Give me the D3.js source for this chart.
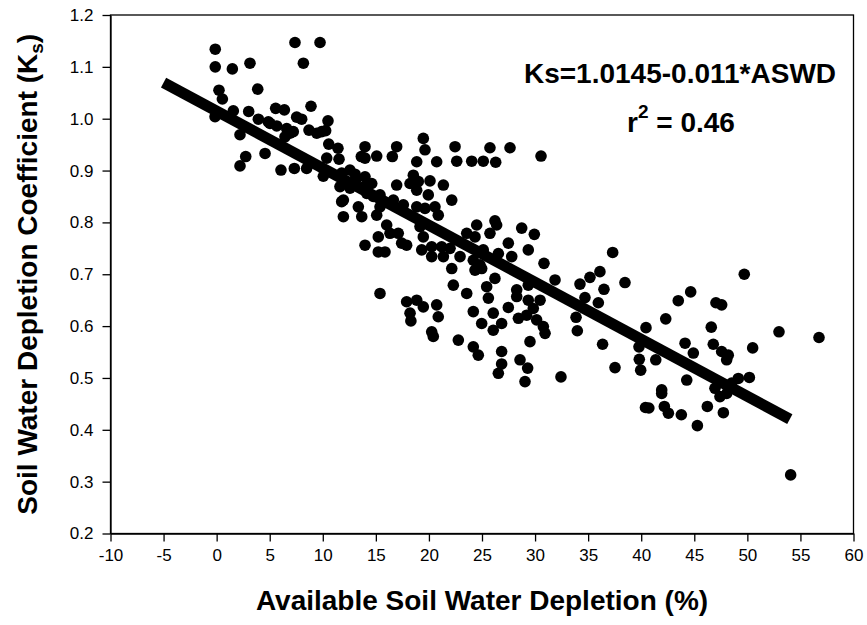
<!DOCTYPE html>
<html>
<head>
<meta charset="utf-8">
<script src="https://cdn.jsdelivr.net/npm/d3@7"></script>
<style>
  html, body { margin: 0; padding: 0; background: #fff; }
  svg { display: block; }
  text { font-family: "Liberation Sans", Arial, sans-serif; fill: #000; }
</style>
</head>
<body>
<svg id="chart" width="867" height="625"></svg>
<script>
// ---- data ----
const aswd = [
  -0.13, -0.13, 1.48, 3.14, 7.38, 9.74, 8.17, 3.87, 0.22, 0.54, 8.89, 5.56, 6.38, 1.57, 3.02, -0.15, 3.93, 4.87, 7.54, 8.01,
  10.49, 5.66, 6.6, 7.22, 8.7, 9.43, 10.27, 2.2, 6.44, 2.74, 2.2, 4.56, 10.56, 11.43, 13.98, 16.96, 6.06, 7.32, 8.48, 10.37,
  11.53, 13.63, 15.08, 16.55, 10.05, 11.78, 13.04, 13.98, 11.62, 12.56, 14.61, 16.96, 11.94, 14.14, 15.39,
  5.03, 9.9, 6.91, 19.47, 19.63, 22.46, 25.75, 27.64, 30.56, 22.62, 24.03, 25.12, 26.29, 20.73, 18.85, 13.98, 12.56, 13.2,
  13.98, 18.53, 18.22, 19.0, 20.1, 21.36, 19.94, 22.15, 18.85, 11.78, 11.94, 13.35, 13.67, 14.76, 15.08, 16.02, 15.39, 16.65,
  17.59, 18.85, 19.63, 20.57, 20.88, 19.16, 13.98, 15.23, 15.23, 15.86, 16.33, 17.11, 17.43, 17.9, 19.47, 19.32, 20.26, 21.2,
  21.99, 21.36, 22.93, 20.26, 22.15, 22.3, 23.56, 24.34, 25.75, 26.38, 24.5, 23.56, 28.74, 29.93, 27.48, 29.36, 30.84, 25.12,
  26.54, 27.8, 24.18, 24.81, 26.22, 25.44, 28.27, 29.36, 15.39,
  26.22, 31.88, 34.23, 35.17, 36.11, 37.31, 36.49, 38.47, 34.7, 35.96, 33.86, 33.98, 36.36, 32.44, 37.53, 39.79, 40.45, 42.31,
  43.49, 44.66, 39.82, 39.95, 41.37, 41.93, 41.93, 44.29, 44.13, 44.91, 24.34, 24.97, 25.6, 24.18, 26.06, 24.97, 26.06, 26.85,
  27.48, 28.27, 29.36, 30.47, 29.83, 28.43, 29.21, 30.15, 30.78, 30.94, 29.52, 26.85, 26.85, 26.54, 28.58, 29.3, 29.05, 22.77,
  24.18, 24.65, 17.9, 18.85, 19.47, 18.22, 18.3, 20.73, 20.88, 20.26, 20.41,
  49.71, 47.04, 47.58, 46.6, 46.79, 47.58, 48.2, 48.05, 50.5, 52.98, 56.75, 40.4, 40.72, 42.18, 42.56, 43.78, 45.29, 46.23,
  47.74, 46.95, 47.42, 48.05, 49.15, 50.19, 48.53, 54.08
];
const ksObs = [
  1.134, 1.100, 1.096, 1.107, 1.147, 1.147, 1.107, 1.057, 1.055, 1.038, 1.024, 1.020, 1.017, 1.015, 1.014, 1.004, 0.999, 0.994, 1.003, 0.999,
  0.996, 0.986, 0.981, 0.975, 0.978, 0.972, 0.977, 0.969, 0.965, 0.927, 0.909, 0.933, 0.951, 0.943, 0.946, 0.946, 0.901, 0.904, 0.904, 0.924,
  0.922, 0.927, 0.928, 0.927, 0.889, 0.895, 0.893, 0.888, 0.869, 0.866, 0.875, 0.872, 0.843, 0.856, 0.853,
  0.991, 0.975, 0.972, 0.962, 0.940, 0.946, 0.944, 0.944, 0.928, 0.918, 0.918, 0.918, 0.916, 0.917, 0.917, 0.924, 0.901, 0.885,
  0.870, 0.891, 0.875, 0.879, 0.880, 0.872, 0.853, 0.843, 0.862, 0.840, 0.811, 0.830, 0.811, 0.850, 0.814, 0.795, 0.830, 0.843,
  0.834, 0.830, 0.827, 0.830, 0.814, 0.792, 0.756, 0.772, 0.743, 0.743, 0.779, 0.779, 0.760, 0.756, 0.772, 0.747, 0.753, 0.753,
  0.750, 0.734, 0.734, 0.734, 0.711, 0.679, 0.663, 0.772, 0.779, 0.795, 0.795, 0.779, 0.789, 0.777, 0.760, 0.747, 0.721, 0.747,
  0.740, 0.734, 0.727, 0.718, 0.692, 0.676, 0.670, 0.679, 0.663,
  0.803, 0.689, 0.681, 0.694, 0.705, 0.742, 0.671, 0.684, 0.655, 0.645, 0.617, 0.591, 0.565, 0.502, 0.520, 0.560, 0.597, 0.614,
  0.649, 0.666, 0.536, 0.515, 0.535, 0.477, 0.470, 0.496, 0.567, 0.548, 0.708, 0.711, 0.654, 0.628, 0.625, 0.605, 0.592, 0.605,
  0.636, 0.657, 0.650, 0.650, 0.634, 0.615, 0.621, 0.612, 0.599, 0.586, 0.570, 0.551, 0.527, 0.509, 0.535, 0.519, 0.493, 0.573,
  0.560, 0.544, 0.647, 0.650, 0.637, 0.625, 0.610, 0.641, 0.618, 0.589, 0.580,
  0.700, 0.645, 0.641, 0.598, 0.565, 0.551, 0.544, 0.535, 0.558, 0.589, 0.578, 0.443, 0.442, 0.445, 0.432, 0.429, 0.408, 0.445,
  0.433, 0.480, 0.464, 0.470, 0.499, 0.501, 0.490, 0.313
];
// regression line end points (Ks = 1.0145 - 0.011*ASWD)
const fitLineX = [-5, 54];
const fitLineY = [1.0695, 0.4205];
const xTickValues = [-10, -5, 0, 5, 10, 15, 20, 25, 30, 35, 40, 45, 50, 55, 60];
const xTickLabels = ["-10", "-5", "0", "5", "10", "15", "20", "25", "30", "35", "40", "45", "50", "55", "60"];
const yTickValues = [0.2, 0.3, 0.4, 0.5, 0.6, 0.7, 0.8, 0.9, 1.0, 1.1, 1.2];
const yTickLabels = ["0.2", "0.3", "0.4", "0.5", "0.6", "0.7", "0.8", "0.9", "1.0", "1.1", "1.2"];
const equationText = "Ks=1.0145-0.011*ASWD";
const rSquaredText = " = 0.46";
const xTitle = "Available Soil Water Depletion (%)";
const yTitle = "Soil Water Depletion Coefficient (K";

// ---- layout ----
const W = 867, H = 625;
const m = { left: 110.5, right: 13.5, top: 15, bottom: 91.5 };
const svg = d3.select("#chart");
const x = d3.scaleLinear().domain([-10, 60]).range([m.left, W - m.right]);
const y = d3.scaleLinear().domain([0.2, 1.2]).range([H - m.bottom, m.top]);

// frame
svg.append("rect")
  .attr("x", m.left).attr("y", m.top)
  .attr("width", W - m.left - m.right).attr("height", H - m.top - m.bottom)
  .attr("fill", "none").attr("stroke", "#000").attr("stroke-width", 1.3);

// axes
const xAxis = svg.append("g")
  .attr("transform", `translate(0,${H - m.bottom})`)
  .call(d3.axisBottom(x).tickValues(xTickValues).tickSizeOuter(0).tickSizeInner(8).tickPadding(7)
    .tickFormat((d, i) => xTickLabels[i]));
const yAxis = svg.append("g")
  .attr("transform", `translate(${m.left},0)`)
  .call(d3.axisLeft(y).tickValues(yTickValues).tickSizeOuter(0).tickSizeInner(8).tickPadding(9)
    .tickFormat((d, i) => yTickLabels[i]));
[xAxis, yAxis].forEach(g => {
  g.select(".domain").attr("stroke", "#000").attr("stroke-width", 1.3);
  g.selectAll(".tick line").attr("stroke", "#000").attr("stroke-width", 1.3);
  g.selectAll(".tick text").attr("font-size", 17).attr("font-family", "Liberation Sans, Arial, sans-serif").attr("fill", "#000");
});

// points
const pts = aswd.map((v, i) => ({ x: v, y: ksObs[i] }));
svg.append("g").selectAll("circle").data(pts).join("circle")
  .attr("cx", d => x(d.x)).attr("cy", d => y(d.y)).attr("r", 5.8).attr("fill", "#000");

// regression line
svg.append("line")
  .attr("x1", x(fitLineX[0])).attr("y1", y(fitLineY[0]))
  .attr("x2", x(fitLineX[1])).attr("y2", y(fitLineY[1]))
  .attr("stroke", "#000").attr("stroke-width", 11);

// annotation
svg.append("text").attr("x", 680).attr("y", 83).attr("text-anchor", "middle")
  .attr("font-size", 28).attr("font-weight", "bold").text(equationText);
const r2 = svg.append("text").attr("x", 681).attr("y", 132).attr("text-anchor", "middle")
  .attr("font-size", 28).attr("font-weight", "bold");
r2.append("tspan").text("r");
r2.append("tspan").attr("font-size", 19).attr("dy", -14).text("2");
r2.append("tspan").attr("dy", 14).text(rSquaredText);

// axis titles
svg.append("text").attr("x", (m.left + W - m.right) / 2).attr("y", 610).attr("text-anchor", "middle")
  .attr("font-size", 28).attr("font-weight", "bold").text(xTitle);
const yt = svg.append("text")
  .attr("transform", `translate(37,${(m.top + H - m.bottom) / 2}) rotate(-90)`)
  .attr("text-anchor", "middle").attr("font-size", 28).attr("font-weight", "bold");
yt.append("tspan").text(yTitle);
yt.append("tspan").attr("font-size", 19).attr("dy", 6).text("s");
yt.append("tspan").attr("dy", -6).text(")");
</script>
</body>
</html>
